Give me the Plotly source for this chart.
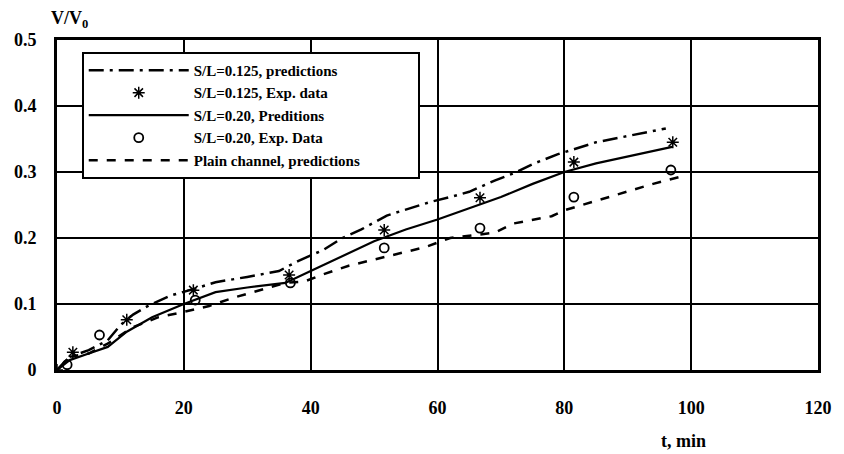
import plotly.graph_objects as go

# S/L = 0.125 predictions (dash-dot)
t_p125 = [0, 2, 5, 8, 10, 12, 14.5, 18, 22, 25, 30, 35, 38, 42, 45, 48, 52, 55, 59, 62, 65, 69, 72, 75, 79, 85, 89, 96]
v_p125 = [0, 0.02, 0.03, 0.045, 0.068, 0.084, 0.098, 0.113, 0.124, 0.133, 0.141, 0.15, 0.165, 0.182, 0.2, 0.213,
          0.234, 0.243, 0.255, 0.262, 0.27, 0.287, 0.298, 0.312, 0.327, 0.345, 0.353, 0.366]

# S/L = 0.125 experimental data (asterisks)
t_e125 = [0, 2.5, 11, 21.5, 36.6, 51.6, 66.7, 81.5, 97.1]
v_e125 = [0, 0.027, 0.076, 0.121, 0.144, 0.212, 0.261, 0.315, 0.345]

# S/L = 0.20 predictions (solid)
t_p20 = [0, 2, 5, 8, 11, 15, 20, 25, 30, 36, 40, 45, 50, 55, 60, 65, 70, 75, 80, 85, 90, 97]
v_p20 = [0, 0.015, 0.025, 0.035, 0.058, 0.08, 0.1, 0.118, 0.125, 0.132, 0.15, 0.172, 0.195, 0.213, 0.228,
         0.245, 0.262, 0.282, 0.3, 0.313, 0.323, 0.338]

# S/L = 0.20 experimental data (circles)
t_e20 = [1.6, 6.7, 21.8, 36.8, 51.6, 66.7, 81.5, 96.8]
v_e20 = [0.008, 0.053, 0.106, 0.132, 0.185, 0.215, 0.262, 0.303]

# Plain channel predictions (dashed)
t_plain = [0, 2, 5, 8, 12, 16, 20, 24, 28, 32, 36, 39, 42, 46, 50, 54, 58, 62, 65, 69, 72, 78, 80, 86, 90, 94, 98]
v_plain = [0, 0.02, 0.025, 0.04, 0.065, 0.08, 0.088, 0.097, 0.11, 0.121, 0.132, 0.134, 0.145, 0.158, 0.167,
           0.177, 0.186, 0.2, 0.203, 0.208, 0.222, 0.233, 0.242, 0.259, 0.27, 0.282, 0.292]

x_ticks = [0, 20, 40, 60, 80, 100, 120]
y_ticks = [0, 0.1, 0.2, 0.3, 0.4, 0.5]
y_tick_text = ["0", "0.1", "0.2", "0.3", "0.4", "0.5"]

FONT = "Liberation Serif"
PAD = "\u00a0" * 14

fig = go.Figure()
fig.add_trace(go.Scatter(x=t_p125, y=v_p125, mode="lines", name="<b>S/L=0.125, predictions</b>",
                         line=dict(color="black", width=2.5, dash="longdashdot")))
fig.add_trace(go.Scatter(x=t_e125, y=v_e125, mode="markers", name="<b>S/L=0.125, Exp. data</b>",
                         marker=dict(symbol="asterisk-open", size=10, color="black",
                                     line=dict(color="black", width=1.5))))
fig.add_trace(go.Scatter(x=t_p20, y=v_p20, mode="lines", name="<b>S/L=0.20, Preditions</b>",
                         line=dict(color="black", width=2.2)))
fig.add_trace(go.Scatter(x=t_e20, y=v_e20, mode="markers", name="<b>S/L=0.20, Exp. Data</b>",
                         marker=dict(symbol="circle-open", size=9, color="black",
                                     line=dict(color="black", width=1.8))))
fig.add_trace(go.Scatter(x=t_plain, y=v_plain, mode="lines", name="<b>Plain channel, predictions</b>" + PAD,
                         line=dict(color="black", width=2.5, dash="dash")))

fig.update_layout(
    width=844, height=454,
    margin=dict(l=57, r=17, t=40, b=84),
    paper_bgcolor="white", plot_bgcolor="white",
    font=dict(family=FONT, color="black", size=17),
    showlegend=True,
    legend=dict(x=0.0325, y=0.964, xanchor="left", yanchor="top",
                bgcolor="white", bordercolor="black", borderwidth=2,
                font=dict(family=FONT, size=15, color="black"),
                tracegroupgap=0, itemwidth=100),
    xaxis=dict(range=[0, 120], tickvals=x_ticks, showgrid=True, gridcolor="black", gridwidth=1.5,
               showline=True, linecolor="black", linewidth=3, mirror=True, zeroline=False,
               ticks="", ticklabelstandoff=19,
               tickfont=dict(family=FONT, size=18, color="black", weight="bold")),
    yaxis=dict(range=[0, 0.5], tickvals=y_ticks, ticktext=y_tick_text, showgrid=True,
               gridcolor="black", gridwidth=1.5,
               showline=True, linecolor="black", linewidth=3, mirror=True, zeroline=False,
               ticks="", ticklabelstandoff=14,
               tickfont=dict(family=FONT, size=18, color="black", weight="bold")),
    annotations=[
        dict(text="<b>V/V<sub>0</sub></b>", xref="paper", yref="paper", x=-0.01, y=1.02,
             xanchor="left", yanchor="bottom", showarrow=False,
             font=dict(family=FONT, size=18, color="black")),
        dict(text="<b>t, min</b>", xref="paper", yref="paper", x=0.823, y=-0.18,
             xanchor="center", yanchor="top", showarrow=False,
             font=dict(family=FONT, size=18, color="black")),
    ],
)

fig.write_html("out.html")
